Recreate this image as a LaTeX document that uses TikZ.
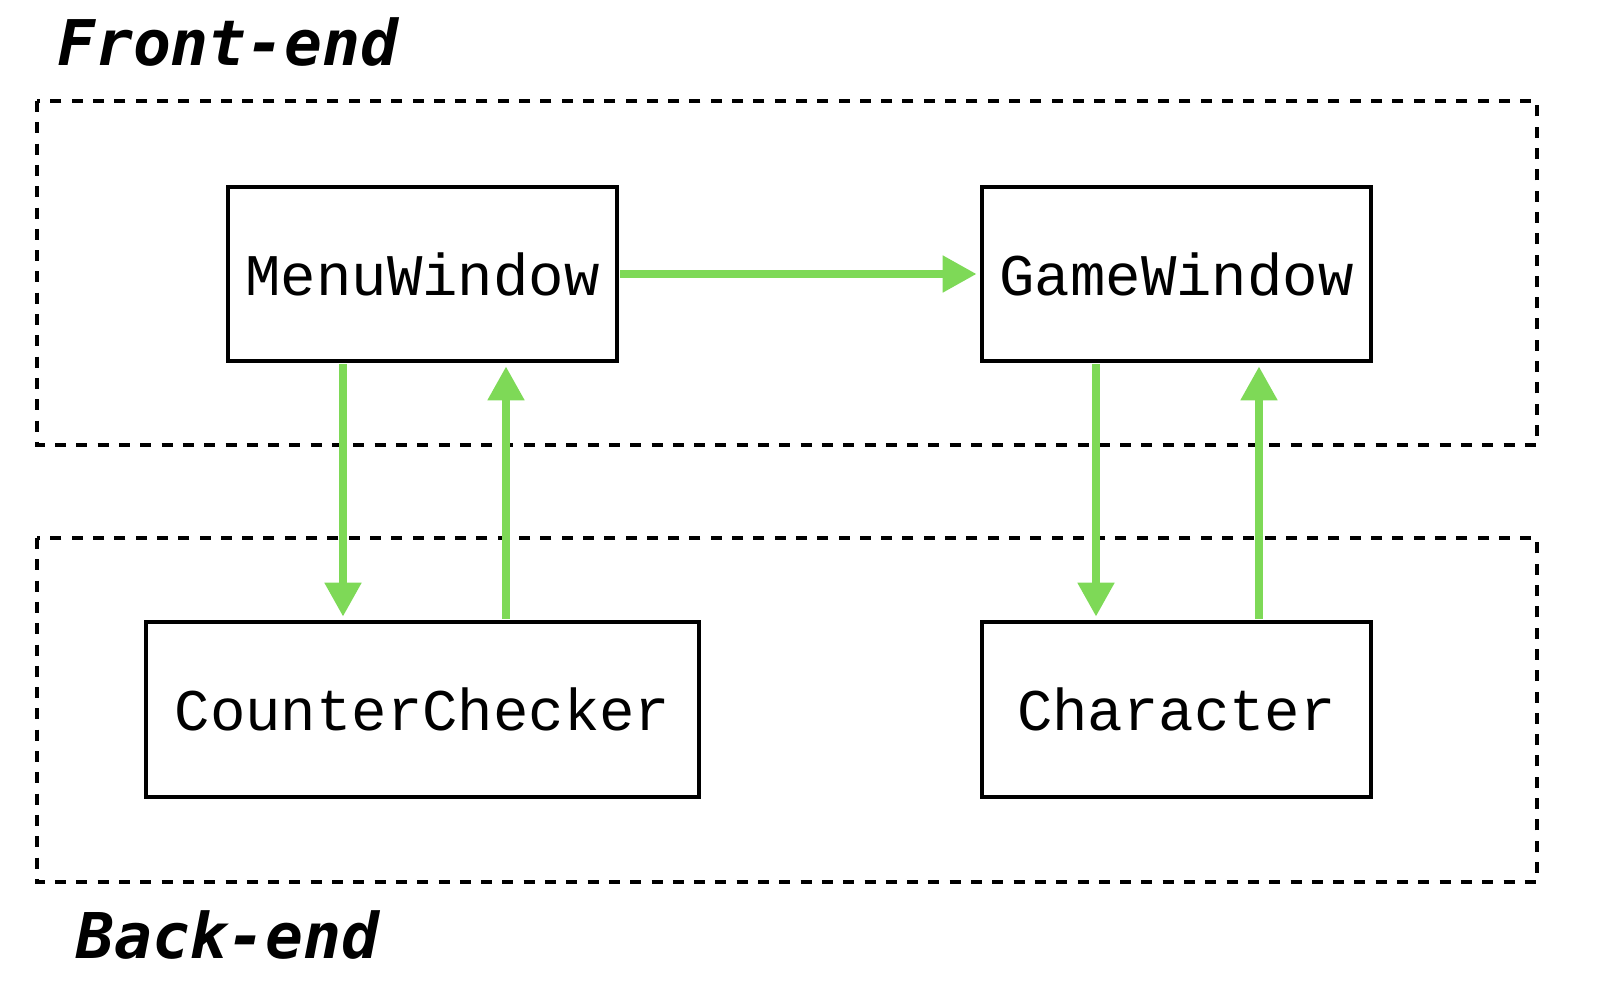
\documentclass[tikz,border=0pt]{standalone}
\usepackage{fontspec}
\setmainfont{Liberation Serif}
\newfontfamily\boxfont{Liberation Mono}
\newfontfamily\labfont{DejaVu Sans Mono}
\usetikzlibrary{arrows.meta}
\definecolor{arrgreen}{HTML}{7ED957}
\tikzset{
  cls/.style={draw=black, line width=4.7pt, rectangle, inner sep=0pt,
    minimum height=174pt, font=\boxfont\fontsize{59}{60}\selectfont},
  grp/.style={draw=black, line width=4.5pt, dash pattern=on 11pt off 10.3pt},
  lab/.style={anchor=base west, inner sep=0pt, font=\labfont\bfseries\itshape\fontsize{63}{64}\selectfont},
  arr/.style={draw=arrgreen, line width=8pt, -{Triangle[length=34pt,width=35pt]}, shorten >=3pt, shorten <=1pt},
}
\begin{document}
\begin{tikzpicture}[x=1pt,y=-1pt]
\useasboundingbox (0,0) rectangle (1598,1004);
% group frames
\draw[grp] (37,101) rectangle (1537,445);
\draw[grp] (37,538) rectangle (1537,882);
% labels
\node[lab] (fe) at (57,65) {Front-end};
\node[lab] (be) at (76,958) {Back-end};
% classes
\node[cls, minimum width=389pt] (menu) at (422.5,274) {MenuWindow};
\node[cls, minimum width=389pt] (game) at (1176.5,274) {GameWindow};
\node[cls, minimum width=553pt, minimum height=175pt] (counter) at (422.5,709.5) {CounterChecker};
\node[cls, minimum width=389pt, minimum height=175pt] (char) at (1176.5,709.5) {Character};
% x positions of vertical connectors
\coordinate (x1) at (343,0);
\coordinate (x2) at (506,0);
\coordinate (x3) at (1096,0);
\coordinate (x4) at (1259,0);
% connectors
\draw[arr] (menu.east) -- (game.west);
\draw[arr] (menu.south -| x1) -- (counter.north -| x1);
\draw[arr] (counter.north -| x2) -- (menu.south -| x2);
\draw[arr] (game.south -| x3) -- (char.north -| x3);
\draw[arr] (char.north -| x4) -- (game.south -| x4);
\end{tikzpicture}
\end{document}
